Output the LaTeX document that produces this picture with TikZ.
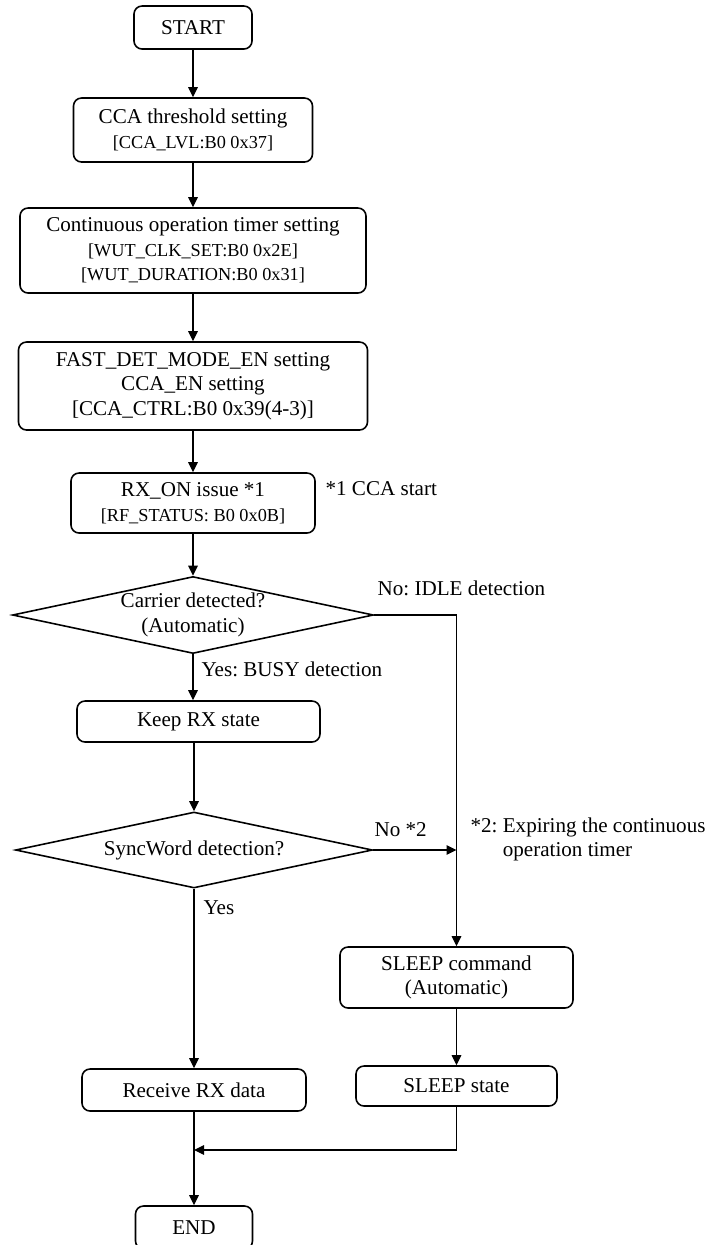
\documentclass[tikz,border=0pt]{standalone}
\usepackage{fontspec}
\setmainfont{Liberation Serif}
\usetikzlibrary{positioning,arrows.meta,shapes.geometric}
\frenchspacing

\newcommand{\regline}[1]{{\fontsize{10.4}{13}\selectfont #1}}

\begin{document}
\begin{tikzpicture}[>={Triangle[length=2mm,width=1.9mm]},line width=0.7pt,
  every node/.style={font=\fontsize{12}{14}\selectfont},
  box/.style={draw,rounded corners=1.6mm,align=center,inner sep=0pt,line width=0.9pt},
  decision/.style={draw,diamond,aspect=4.7,align=center,inner sep=0pt,line width=0.9pt},
  lbl/.style={anchor=west,inner sep=0pt}]
\useasboundingbox (0,0) rectangle (14.22,-24.9);
\node[box,minimum width=2.36cm,minimum height=0.86cm] (start) at (3.86,-0.55) {START};
\node[box,minimum width=4.78cm,minimum height=1.28cm] (cca) at (3.86,-2.60) {CCA threshold setting\\\regline{[CCA\_LVL:B0 0x37]}};
\node[box,minimum width=6.92cm,minimum height=1.70cm] (timer) at (3.86,-5.01) {Continuous operation timer setting\\\regline{[WUT\_CLK\_SET:B0 0x2E]}\\\regline{[WUT\_DURATION:B0 0x31]}};
\node[box,minimum width=6.98cm,minimum height=1.76cm] (fast) at (3.86,-7.72) {FAST\_DET\_MODE\_EN setting\\CCA\_EN setting\\{}[CCA\_CTRL:B0 0x39(4-3)]};
\node[box,minimum width=4.88cm,minimum height=1.20cm] (rxon) at (3.86,-10.06) {RX\_ON issue *1\\\regline{[RF\_STATUS: B0 0x0B]}};
\node[decision,minimum width=7.22cm,minimum height=1.54cm] (carrier) at (3.86,-12.30) {Carrier detected?\\(Automatic)};
\node[box,minimum width=4.86cm,minimum height=0.82cm] (keep) at (3.97,-14.43) {Keep RX state};
\node[decision,minimum width=7.14cm,minimum height=1.52cm] (sync) at (3.88,-17.0) {SyncWord detection?};
\node[box,minimum width=4.48cm,minimum height=0.84cm] (recv) at (3.88,-21.80) {Receive RX data};
\node[box,minimum width=2.34cm,minimum height=0.86cm] (end) at (3.88,-24.55) {END};
\node[box,minimum width=4.66cm,minimum height=1.22cm] (sleepcmd) at (9.13,-19.55) {SLEEP command\\(Automatic)};
\node[box,minimum width=4.02cm,minimum height=0.80cm] (sleepst) at (9.13,-21.72) {SLEEP state};
\coordinate (join) at (3.88,-23.0);

\node[lbl] (note1) at (6.50,-9.78) {*1 CCA start};
\node[lbl] (idle) at (7.54,-11.76) {No: IDLE detection};
\node[lbl] (busy) at (4.02,-13.38) {Yes: BUSY detection};
\node[lbl] (no2) at (7.48,-16.60) {No *2};
\node[lbl,align=left] (note2) at (9.40,-16.79) {*2: Expiring the continuous\\\phantom{*2: }operation timer};
\node[lbl] (yes) at (4.06,-18.16) {Yes};

\draw[->] (start) -- (cca);
\draw[->] (cca) -- (timer);
\draw[->] (timer) -- (fast);
\draw[->] (fast) -- (rxon);
\draw[->] (rxon) -- (carrier);
\draw[->] (carrier.south) -- (carrier.south |- keep.north);
\draw[->] (sync.north |- keep.south) -- (sync.north);
\draw[->] (carrier.east) -| (sleepcmd.north);
\draw[->] (sync.east) -- (sync.east -| sleepcmd.north);
\draw[->] (sync.south) -- (recv.north);
\draw[->] (sleepcmd) -- (sleepst);
\draw[->] (sleepst.south) |- (join);
\draw[->] (recv.south) -- (end.north);
\end{tikzpicture}
\end{document}
